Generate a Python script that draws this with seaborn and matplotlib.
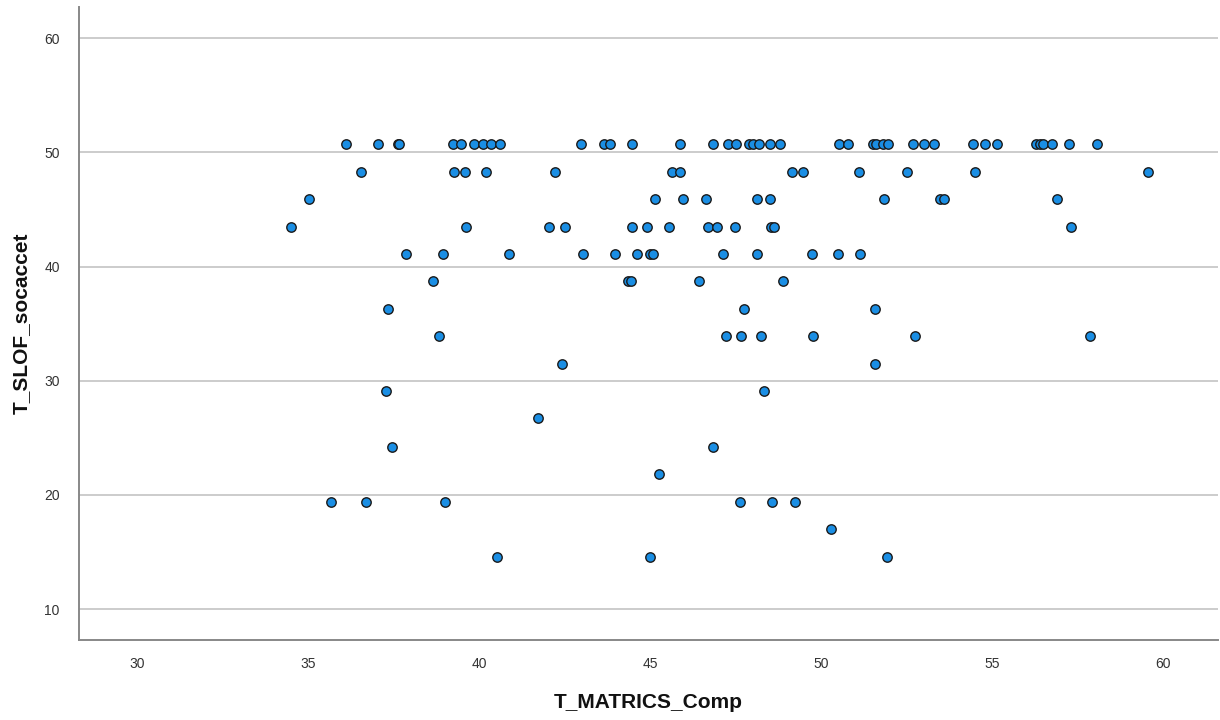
import pandas as pd
import matplotlib
matplotlib.use("Agg")
import matplotlib.pyplot as plt
import seaborn as sns

# T_SLOF_socaccet levels (scores fall on a fixed grid)
y_levels = [50.7, 48.3, 45.9, 43.5, 41.1, 38.7, 36.3, 33.9,
            31.5, 29.1, 26.7, 24.2, 21.8, 19.4, 17.0, 14.6]

# T_MATRICS_Comp values read for each level
x_507 = [36.09, 37.04, 37.63, 37.66, 39.22, 39.48, 39.86, 40.10, 40.35, 40.60,
         42.98, 43.64, 43.84, 44.46, 45.88, 46.85, 47.29, 47.51, 47.89, 48.02,
         48.19, 48.51, 48.80, 50.53, 50.78, 51.51, 51.62, 51.80, 51.97, 52.68,
         53.02, 53.30, 54.45, 54.80, 55.16, 56.30, 56.40, 56.50, 56.76, 57.25,
         58.07]
x_483 = [36.53, 39.25, 39.57, 40.21, 42.23, 45.63, 45.88, 49.16, 49.48, 51.12,
         52.52, 54.50, 59.56]
x_459 = [35.02, 45.13, 45.97, 46.64, 48.12, 48.51, 51.85, 53.47, 53.60, 56.90]
x_435 = [34.50, 39.62, 42.03, 42.52, 44.46, 44.90, 45.56, 46.68, 46.97, 47.48,
         48.55, 48.62, 57.32]
x_411 = [37.87, 38.93, 40.87, 43.03, 43.98, 44.61, 45.00, 45.08, 47.14, 48.14,
         49.73, 50.50, 51.14]
x_387 = [38.65, 44.34, 44.44, 46.44, 48.88]
x_363 = [37.33, 47.75, 51.58]
x_339 = [38.82, 47.22, 47.67, 48.24, 49.75, 52.74, 57.86]
x_315 = [42.43, 51.57]
x_291 = [37.27, 48.33]
x_267 = [41.72]
x_242 = [37.44, 46.85]
x_218 = [45.27]
x_194 = [35.65, 36.69, 39.00, 47.62, 48.57, 49.23]
x_170 = [50.28]
x_146 = [40.52, 45.00, 51.93]

x_groups = [x_507, x_483, x_459, x_435, x_411, x_387, x_363, x_339,
            x_315, x_291, x_267, x_242, x_218, x_194, x_170, x_146]

rows = []
for yv, xs in zip(y_levels, x_groups):
    for xv in xs:
        rows.append({"T_MATRICS_Comp": xv, "T_SLOF_socaccet": yv})
df = pd.DataFrame(rows)

sns.set_style("white")
plt.rcParams["font.family"] = ["Liberation Sans", "DejaVu Sans"]

fig = plt.figure(figsize=(12.2, 7.2), dpi=100)
ax = fig.add_axes([0.065, 0.111, 0.933, 0.879])

sns.scatterplot(data=df, x="T_MATRICS_Comp", y="T_SLOF_socaccet", ax=ax,
                s=46, color="#1a8ee4", edgecolor="#1a1a1a", linewidth=1.0,
                zorder=3)

ax.set_xlim(28.3, 61.6)
ax.set_ylim(7.3, 62.7)
ax.set_xticks([30, 35, 40, 45, 50, 55, 60])
ax.set_yticks([10, 20, 30, 40, 50, 60])
ax.yaxis.grid(True, color="#cccccc", linewidth=1.4)
ax.xaxis.grid(False)
ax.tick_params(axis="x", length=0, labelsize=10, labelcolor="#333333", pad=12)
ax.tick_params(axis="y", length=0, labelsize=10, labelcolor="#333333", pad=14)

for side in ["top", "right"]:
    ax.spines[side].set_visible(False)
for side in ["left", "bottom"]:
    ax.spines[side].set_color("#888888")
    ax.spines[side].set_linewidth(1.4)

ax.set_xlabel("T_MATRICS_Comp", fontsize=15, fontweight="bold", labelpad=16,
              color="#111111")
ax.set_ylabel("T_SLOF_socaccet", fontsize=15, fontweight="bold", labelpad=10,
              color="#111111")

fig.savefig("out.png", dpi=100)
